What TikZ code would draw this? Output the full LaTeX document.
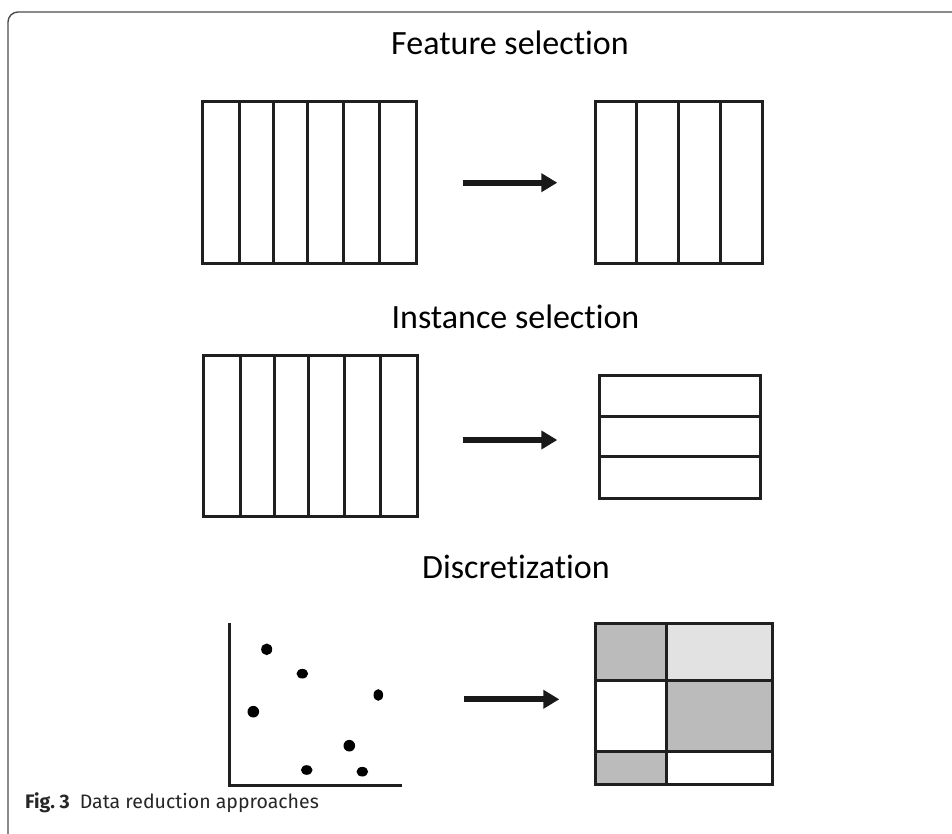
\documentclass[tikz,border=0pt]{standalone}
\usepackage{fontspec}
\setmainfont{Carlito}[Ligatures={NoCommon,NoContextual}]
\newfontfamily\capfont{Fira Sans}
\usetikzlibrary{arrows.meta}
\tikzset{tablebox/.style = {line width=3pt, draw=black!88},
         fatarrow/.style = {line width=6pt, draw=black!90,
                            -{Triangle[length=16pt,width=18pt]}},
         heading/.style  = {anchor=base, font=\fontsize{34}{39}\selectfont},
         frame/.style    = {line width=1.4pt, draw=black!70, rounded corners=10pt}}
\definecolor{cellgray}{HTML}{BBBBBB}
\definecolor{celllight}{HTML}{E2E2E2}

\begin{document}
\begin{tikzpicture}[x=1pt, y=-1pt]
      \useasboundingbox (0,0) rectangle (952,834);
      \draw [frame] (953,12) -- (8,12) -- (8,835);
      % titles
      \node [heading] (fs) at (510,55) {Feature selection};
      \node [heading] (is) at (515.5,328.5) {Instance selection};
      \node [heading] (dz) at (516,578) {Discretization};
      % feature selection
      \draw [tablebox] (202,101.7) rectangle (416,263.3);
      \foreach \x in {239,273,307.7,343.3,379}
        \draw [tablebox] (\x,101.7) -- (\x,263.3);
      \draw [tablebox] (595,101.7) rectangle (762.3,263.3);
      \foreach \x in {636.7,678.3,720.7}
        \draw [tablebox] (\x,101.7) -- (\x,263.3);
      \coordinate (fs-from) at (462.7,182.7);
      \coordinate (fs-to) at (557.3,182.7);
      \draw [fatarrow] (fs-from) -- (fs-to);
      % instance selection
      \draw [tablebox] (203.3,355) rectangle (417.7,516.7);
      \foreach \x in {240.7,274.3,308,344.7,380.3}
        \draw [tablebox] (\x,355) -- (\x,516.7);
      \draw [tablebox] (599.3,375) rectangle (760.7,498.3);
      \foreach \y in {416,456.7}
        \draw [tablebox] (599.3,\y) -- (760.7,\y);
      \coordinate (is-from) at (462.7,440);
      \coordinate (is-to) at (557.3,440);
      \draw [fatarrow] (is-from) -- (is-to);
      % discretization
      \draw [tablebox] (229,623) -- (229,785) -- (402,785);
      \fill (266.7,649.3) ellipse [x radius=5.5pt, y radius=5.8pt];
      \fill (302.3,673.7) ellipse [x radius=5.8pt, y radius=4.8pt];
      \fill (378.3,695) ellipse [x radius=4.8pt, y radius=5.8pt];
      \fill (253.3,711.7) ellipse [x radius=5.8pt, y radius=5.8pt];
      \fill (349.3,745.7) ellipse [x radius=5.8pt, y radius=5.8pt];
      \fill (306.7,770) ellipse [x radius=5.8pt, y radius=4.8pt];
      \fill (362.3,771.7) ellipse [x radius=5.8pt, y radius=4.8pt];
      \fill [cellgray] (595,623) rectangle (666.7,680);
      \fill [celllight] (666.7,623) rectangle (772.3,680);
      \fill [cellgray] (666.7,680) rectangle (772.3,751.7);
      \fill [cellgray] (595,751.7) rectangle (666.7,784.3);
      \draw [tablebox] (595,623) rectangle (772.3,784.3);
      \draw [tablebox] (666.7,623) -- (666.7,784.3);
      \draw [tablebox] (595,680) -- (772.3,680);
      \draw [tablebox] (595,751.7) -- (772.3,751.7);
      \coordinate (dz-from) at (464,699.3);
      \coordinate (dz-to) at (559.3,699.3);
      \draw [fatarrow] (dz-from) -- (dz-to);
      % caption
      \node [anchor=base west, font=\capfont\fontsize{19.5}{24}\selectfont, text=black!85, inner sep=0pt]
        (cap) at (25,808) {\textbf{Fig.~3}\hspace{10pt}Data reduction approaches};
\end{tikzpicture}
\end{document}
